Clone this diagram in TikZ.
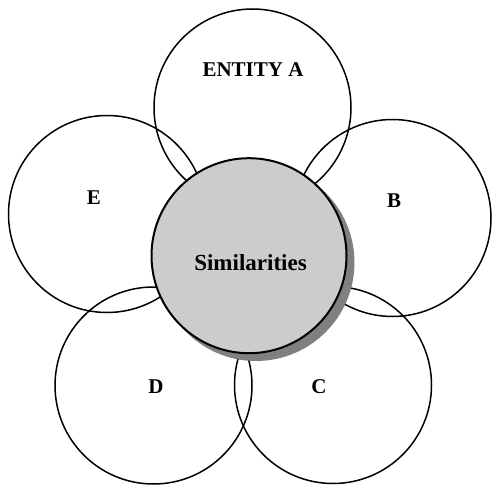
\documentclass[tikz,border=0pt]{standalone}
\usepackage{fontspec}
\setmainfont{Liberation Serif}
\definecolor{hubfill}{HTML}{CCCCCC}
\definecolor{hubshadow}{HTML}{808080}
\begin{document}
\begin{tikzpicture}[x=1pt,y=-1pt,
  petal/.style={circle,draw=black,line width=1.5pt,inner sep=0pt,minimum size=197pt},
  hub/.style={circle,draw=black,fill=hubfill,line width=2pt,inner sep=0pt,minimum size=195pt},
  hubshade/.style={circle,fill=hubshadow,inner sep=0pt,minimum size=197pt},
  lbl/.style={font=\bfseries\fontsize{21}{24}\selectfont,inner sep=0pt},
  hublbl/.style={font=\bfseries\fontsize{23}{26}\selectfont,inner sep=0pt}]
\useasboundingbox (0,0) rectangle (492,486);
\node[petal] (A) at (252.5,107.5) {};
\node[petal] (B) at (392.5,218) {};
\node[petal] (E) at (107,214) {};
\node[petal] (D) at (153.5,385.5) {};
\node[petal] (C) at (333,385) {};
\node[hubshade] (S) at (256,262.5) {};
\node[hub] (H) at (249,255.7) {};
\node[lbl] (tA) at (253,70) {ENTITY A};
\node[lbl] (tB) at (394,201) {B};
\node[lbl] (tC) at (319,387) {C};
\node[lbl] (tD) at (156,387) {D};
\node[lbl] (tE) at (94,198) {E};
\node[hublbl] (tH) at (250.5,262.5) {Similarities};
\end{tikzpicture}
\end{document}
